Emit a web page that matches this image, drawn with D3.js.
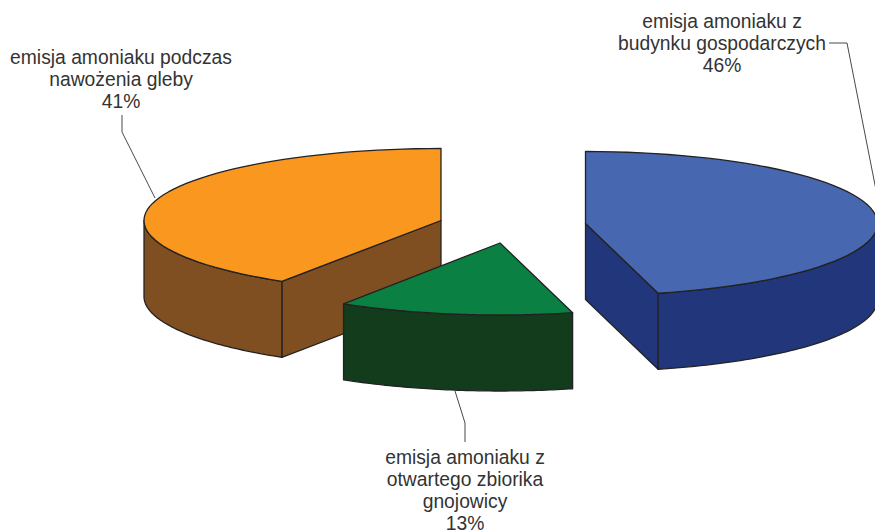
<!DOCTYPE html>
<html>
<head>
<meta charset="utf-8">
<style>
html, body { margin: 0; padding: 0; background: #fff; overflow: hidden; }
text { font-family: "Liberation Sans", sans-serif; font-size: 19.3px; fill: #333; text-anchor: middle; }
</style>
</head>
<body>
<svg id="chart" width="875" height="531"></svg>
<script src="https://cdnjs.cloudflare.com/ajax/libs/d3/7.8.5/d3.min.js"></script>
<script>
'use strict'

const names = ['budynki', 'zbiornik', 'gleba']
const shares = [46, 13, 41]
const labels = [
	['emisja amoniaku z', 'budynku gospodarczych', '46%'],
	['emisja amoniaku z', 'otwartego zbiorika', 'gnojowicy', '13%'],
	['emisja amoniaku podczas', 'nawożenia gleby', '41%']
]
const topColors = ['#4767b0', '#0b8043', '#f9971e']
const sideColors = ['#22377b', '#123c1c', '#7f4f21']

// slice apex, radii and label placement, same order as names
const centers = [[585.5, 223.5], [500, 243], [441, 220.5]]
const radii = [[292, 72], [292, 72], [297, 72]]
const labelSpots = [[722, 28], [465, 463.5], [121, 63.5]]
const leaders = [
	[[829, 43], [847, 43], [876, 190]],
	[[465, 442], [465, 423], [455, 391]],
	[[122, 115], [122, 132], [155, 198]]
]
const depth = 76
const lineGap = 22.2

const svg = d3.select('#chart')
const arcs = d3.pie().sort(null)(shares)

function point(i, a, drop) {
	return [
		centers[i][0] + radii[i][0] * Math.sin(a),
		centers[i][1] - radii[i][1] * Math.cos(a) + (drop || 0)
	]
}

function rim(i, from, to, drop) {
	let steps = d3.range(0, 61).map(s => from + (to - from) * s / 60)
	return steps.map(a => point(i, a, drop))
}

const line = d3.line()

// gleba first, the green slice sits in front of it
const order = [2, 0, 1]

order.forEach(function(i) {
	let arc = arcs[i]
	let g = svg.append('g').attr('class', 'slice').attr('id', 'slice-' + names[i])
	let apex = centers[i]
	let apexLow = [apex[0], apex[1] + depth]

	// cut wall facing the viewer, only the ends that turn toward the front
	let cuts = []
	if (arc.endAngle < Math.PI) cuts.push(arc.endAngle)
	if (arc.startAngle > Math.PI) cuts.push(arc.startAngle)
	cuts.forEach(function(a) {
		let edge = point(i, a)
		let edgeLow = point(i, a, depth)
		g.append('path')
			.attr('d', line([apex, edge, edgeLow, apexLow]) + 'Z')
			.attr('fill', sideColors[i])
			.attr('stroke', '#222')
			.attr('stroke-width', 1.3)
			.attr('stroke-linejoin', 'round')
	})

	// outer wall, the part of the rim between the two side extremes
	let from = Math.max(arc.startAngle, Math.PI / 2)
	let to = Math.min(arc.endAngle, Math.PI * 1.5)
	if (to > from) {
		let upper = rim(i, from, to, 0)
		let lower = rim(i, from, to, depth).reverse()
		g.append('path')
			.attr('d', line(upper.concat(lower)) + 'Z')
			.attr('fill', sideColors[i])
			.attr('stroke', '#222')
			.attr('stroke-width', 1.3)
			.attr('stroke-linejoin', 'round')
	}

	// top face
	g.append('path')
		.attr('d', line([apex].concat(rim(i, arc.startAngle, arc.endAngle, 0))) + 'Z')
		.attr('fill', topColors[i])
		.attr('stroke', '#222')
		.attr('stroke-width', 1.3)
		.attr('stroke-linejoin', 'round')
})

leaders.forEach(function(pts) {
	svg.append('path')
		.attr('d', line(pts))
		.attr('fill', 'none')
		.attr('stroke', '#333')
		.attr('stroke-width', 0.9)
})

labels.forEach(function(rows, i) {
	let t = svg.append('text')
		.attr('transform', 'translate(' + labelSpots[i][0] + ',' + labelSpots[i][1] + ')')
	rows.forEach(function(row, r) {
		t.append('tspan').attr('x', 0).attr('y', r * lineGap).text(row)
	})
})
</script>
</body>
</html>
